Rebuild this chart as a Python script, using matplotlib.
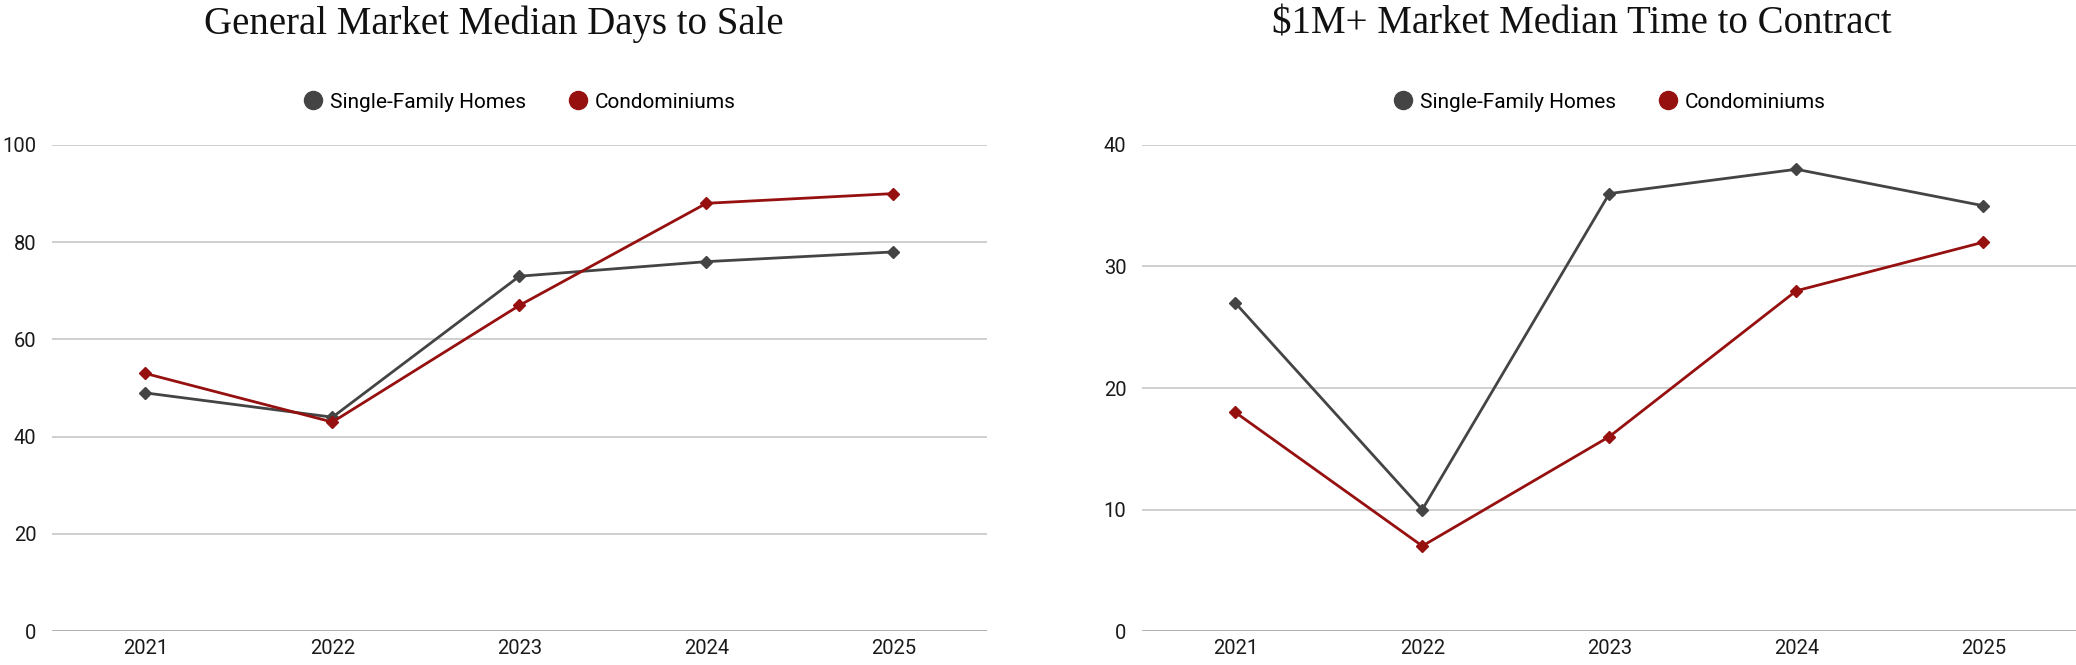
import matplotlib.pyplot as plt
from matplotlib.lines import Line2D

years = ["2021", "2022", "2023", "2024", "2025"]

# left panel: general market, median days to sale
days_sfh = [49, 44, 73, 76, 78]
days_condo = [53, 43, 67, 88, 90]

# right panel: $1M+ market, median time to contract
lux_sfh = [27, 10, 36, 38, 35]
lux_condo = [18, 7, 16, 28, 32]

SFH_COLOR = "#444444"
CONDO_COLOR = "#961010"
SANS = "Roboto"
SERIF = "Liberation Serif"

plt.rcParams["font.family"] = SANS


def draw_panel(ax, sfh, condo, ymax, step):
    x = range(len(years))
    ax.plot(x, sfh, color=SFH_COLOR, lw=2.0, marker="D", ms=6, zorder=3)
    ax.plot(x, condo, color=CONDO_COLOR, lw=2.0, marker="D", ms=6, zorder=4)

    ax.set_xlim(-0.5, len(years) - 0.5)
    ax.set_ylim(0, ymax)
    ax.set_xticks(list(x))
    ax.set_xticklabels(years)
    ax.set_yticks(range(0, ymax + 1, step))

    for v in range(step, ymax + 1, step):
        ax.axhline(v, color="#cccccc", lw=1.3, zorder=1)
    ax.axhline(0, color="#999999", lw=1.8, zorder=2)

    for s in ax.spines.values():
        s.set_visible(False)
    ax.tick_params(axis="both", length=0, labelsize=14.5, colors="#1a1a1a")
    ax.tick_params(axis="y", pad=11)
    ax.tick_params(axis="x", pad=6)

    handles = [
        Line2D([], [], ls="none", marker="o", ms=13, color=SFH_COLOR),
        Line2D([], [], ls="none", marker="o", ms=13, color=CONDO_COLOR),
    ]
    ax.legend(handles, ["Single-Family Homes", "Condominiums"], loc="center",
              bbox_to_anchor=(0.5, 1.088), ncol=2, frameon=False, fontsize=15,
              handletextpad=0.3, columnspacing=2.0, handlelength=1.0)


fig = plt.figure(figsize=(20.76, 6.65), dpi=100)
ax1 = fig.add_axes([0.025, 0.051, 0.4504, 0.731])
ax2 = fig.add_axes([0.550, 0.051, 0.4504, 0.731])

draw_panel(ax1, days_sfh, days_condo, 100, 20)
draw_panel(ax2, lux_sfh, lux_condo, 40, 10)

fig.text(494 / 2076, 1 - 24 / 665, "General Market Median Days to Sale",
         ha="center", va="center", fontsize=28, family=SERIF, color="#111111")
fig.text(1582 / 2076, 1 - 24 / 665, "$1M+ Market Median Time to Contract",
         ha="center", va="center", fontsize=28, family=SERIF, color="#111111")

fig.savefig("out.png", dpi=100, facecolor="white")
